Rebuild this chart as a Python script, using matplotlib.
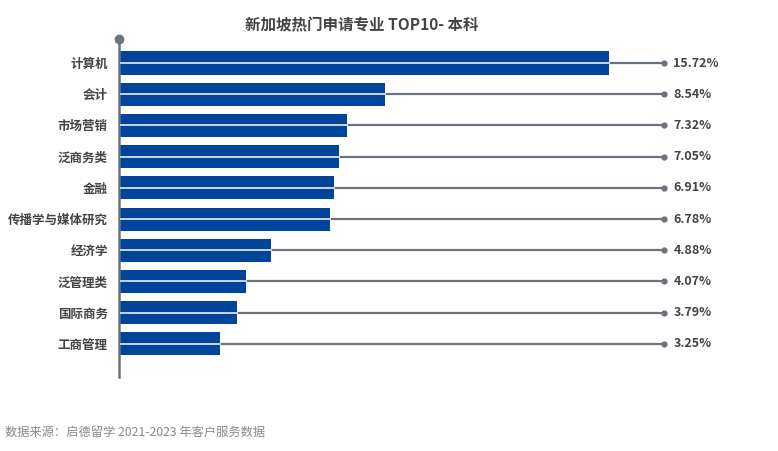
import matplotlib.pyplot as plt

plt.rcParams['font.family'] = ['Noto Sans CJK SC', 'DejaVu Sans']

# data
majors = ["计算机", "会计", "市场营销", "泛商务类", "金融",
          "传播学与媒体研究", "经济学", "泛管理类", "国际商务", "工商管理"]
shares = [15.72, 8.54, 7.32, 7.05, 6.91, 6.78, 4.88, 4.07, 3.79, 3.25]

bar_color = "#01449b"
line_color = "#6b747d"
text_color = "#444444"
x_end = 17.48  # where the gray leader lines stop

fig = plt.figure(figsize=(7.78, 4.51), dpi=100)
ax = fig.add_axes([119 / 778, 1 - 377 / 451, (664 - 119) / 778, (377 - 39) / 451])

y = list(range(len(majors)))
ax.barh(y, shares, height=0.74, color=bar_color, zorder=2)

# white line through the middle of each bar, gray leader line to the right
for i, v in zip(y, shares):
    ax.plot([0.06, v], [i, i], color="#dde3ee", lw=1.3, zorder=3)
    ax.plot([v, x_end], [i, i], color=line_color, lw=1.6, zorder=1, clip_on=False)
    ax.plot(x_end, i, "o", color=line_color, ms=3.5, clip_on=False, zorder=3)
    ax.text(x_end + 0.3, i, f"{v:.2f}%", va="center", ha="left",
            fontsize=9, fontweight="bold", color=text_color)

ax.set_xlim(0, x_end)
ax.set_ylim(10.06, -0.77)

for s in ["top", "right", "bottom"]:
    ax.spines[s].set_visible(False)
ax.spines["left"].set_color(line_color)
ax.spines["left"].set_linewidth(1.8)
ax.plot(0, -0.77, "o", color=line_color, ms=6, clip_on=False, zorder=4)

ax.set_xticks([])
ax.set_yticks(y)
ax.set_yticklabels(majors, fontsize=9, fontweight="bold", color=text_color)
ax.tick_params(axis="y", length=0, pad=8)

fig.text(362 / 778, 1 - 25 / 451, "新加坡热门申请专业 TOP10- 本科", ha="center", va="center",
         fontsize=11.2, fontweight="bold", color=text_color)
fig.text(5 / 778, 1 - 433 / 451, "数据来源：启德留学 2021-2023 年客户服务数据", ha="left", va="center",
         fontsize=8.8, style="italic", color="#8a8a8a")

fig.savefig("out.png", dpi=100)
